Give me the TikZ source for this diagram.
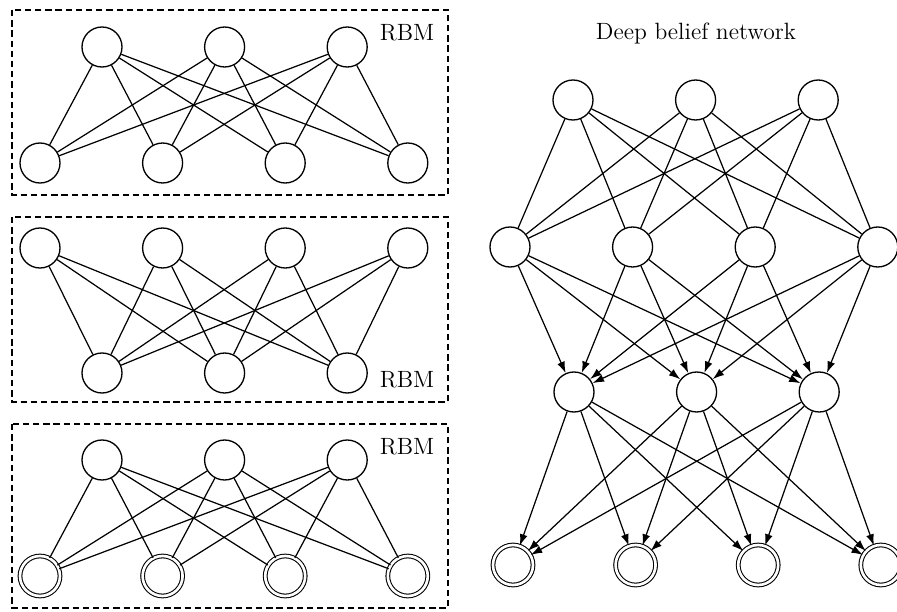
\documentclass[tikz,border=0pt]{standalone}
\usepackage{tikz}
\usetikzlibrary{arrows.meta}
\tikzset{
  unit/.style={circle,draw,line width=0.75pt,minimum size=0.8cm,inner sep=0pt},
  visunit/.style={unit,double,double distance=1.5pt,line width=0.6pt},
  boxline/.style={draw,dashed,dash pattern=on 3.6pt off 2.2pt,line width=0.8pt},
  wire/.style={line width=0.7pt},
  arrwire/.style={wire,-{Latex[length=6.5pt,width=4.5pt]}},
  labfont/.style={font=\fontsize{13.4}{16}\selectfont},
}
% a row of units: name prefix, count, first x, y, style
\newcommand{\unitrow}[5]{%
  \foreach \i in {1,...,#2}{%
    \node[#5] (#1\i) at ({#3+(\i-1)*122.6},{#4}) {};}%
}
% every unit of one row to every unit of another
\newcommand{\linkall}[5]{%
  \foreach \i in {1,...,#2}{%
    \foreach \j in {1,...,#4}{%
      \draw[#5] (#1\i) -- (#3\j);}}%
}

\begin{document}
\begin{tikzpicture}[x=0.02cm,y=-0.02cm]
        \useasboundingbox (0,0) rectangle (897,612);
        % three stacked RBMs
        \draw[boxline] (12,10) rectangle (448,195);
        \draw[boxline] (12,217) rectangle (448,402);
        \draw[boxline] (12,424) rectangle (448,608);
        \unitrow{ah}{3}{102}{47}{unit}\unitrow{av}{4}{40}{163}{unit}
        \unitrow{bv}{4}{40}{248}{unit}\unitrow{bh}{3}{102}{373}{unit}
        \unitrow{ch}{3}{102}{460}{unit}\unitrow{cv}{4}{40}{576}{visunit}
        \linkall{ah}{3}{av}{4}{wire}
        \linkall{bv}{4}{bh}{3}{wire}
        \linkall{ch}{3}{cv}{4}{wire}
        \node[labfont] (rbma) at (407,33) {RBM};
        \node[labfont] (rbmb) at (407,380) {RBM};
        \node[labfont] (rbmc) at (407,447) {RBM};
        % deep belief network
        \node[labfont] (dbn) at (696,33) {Deep belief network};
        \unitrow{la}{3}{573}{100}{unit}\unitrow{lb}{4}{510}{247}{unit}
        \unitrow{lc}{3}{574}{392}{unit}\unitrow{ld}{4}{513}{565}{visunit}
        \linkall{la}{3}{lb}{4}{wire}
        \linkall{lb}{4}{lc}{3}{arrwire}
        \linkall{lc}{3}{ld}{4}{arrwire}
      \end{tikzpicture}
\end{document}
